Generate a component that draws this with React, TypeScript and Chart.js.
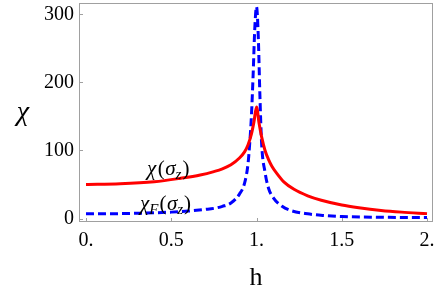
import React, { useEffect, useRef } from "react";
import { Chart, registerables } from "chart.js";

Chart.register(...registerables);

const redH = [0, 0.2, 0.4, 0.55, 0.67, 0.75, 0.8, 0.85, 0.9, 0.93, 0.95, 0.97, 0.985, 1.0, 1.015, 1.03, 1.05, 1.07, 1.09, 1.12, 1.16, 1.22, 1.3, 1.38, 1.5, 1.6, 1.73, 1.85, 2.0];
const redChi = [50, 51, 54, 59, 64, 69, 73, 79, 89, 98, 108, 124, 142, 164, 140, 120, 100, 87, 77, 66, 54, 43, 33.5, 27, 20, 16, 12, 9.5, 7.3];

const blueH = [0, 0.25, 0.5, 0.6, 0.7, 0.75, 0.8, 0.85, 0.9, 0.93, 0.95, 0.96, 0.97, 0.98, 0.99, 1.0, 1.01, 1.02, 1.03, 1.05, 1.07, 1.1, 1.15, 1.2, 1.3, 1.4, 1.5, 1.7, 2.0];
const blueChi = [7, 7.5, 9.5, 11, 13.5, 15, 18, 23, 36, 52, 80, 110, 150, 210, 280, 311, 270, 180, 110, 68, 45, 30, 18, 12, 7, 4.5, 3, 2, 1.5];

const xTicks = [0, 0.5, 1, 1.5, 2];
const xTickLabels = ["0.", "0.5", "1.", "1.5", "2."];
const yTicks = [0, 100, 200, 300];
const yTickLabels = ["0", "100", "200", "300"];

const seriesNames = ["χ(σz)", "χF(σz)"];

const SERIF = "'Liberation Serif', 'Times New Roman', 'DejaVu Serif', serif";

export default function App() {
  const ref = useRef<HTMLCanvasElement>(null);
  useEffect(() => {
    if (!ref.current) return;
    const framePlugin = {
      id: "frame",
      afterDraw(chart: any) {
        const ctx = chart.ctx;
        const a = chart.chartArea;
        const xs = chart.scales.x;
        const ys = chart.scales.y;
        ctx.save();
        ctx.strokeStyle = "#a0a0a0";
        ctx.lineWidth = 1;
        ctx.strokeRect(a.left + 0.5, a.top + 0.5, a.right - a.left - 1, a.bottom - a.top - 1);
        ctx.beginPath();
        xTicks.forEach((t) => {
          const px = Math.round(xs.getPixelForValue(t)) + 0.5;
          ctx.moveTo(px, a.bottom);
          ctx.lineTo(px, a.bottom - 4);
        });
        yTicks.forEach((t) => {
          const py = Math.round(ys.getPixelForValue(t)) + 0.5;
          ctx.moveTo(a.left, py);
          ctx.lineTo(a.left + 4, py);
        });
        ctx.stroke();

        ctx.fillStyle = "#000";
        ctx.textBaseline = "alphabetic";
        ctx.font = `italic 28px ${SERIF}`;
        ctx.textAlign = "center";
        ctx.fillText("χ", 23, 120);
        ctx.font = `26px ${SERIF}`;
        ctx.fillText("h", 256, 285);

        const drawLabel = (x: number, y: number, sub: string | null) => {
          ctx.textAlign = "left";
          let cx = x;
          const part = (txt: string, font: string, dy: number, gap: number) => {
            ctx.font = font;
            ctx.fillText(txt, cx, y + dy);
            cx += ctx.measureText(txt).width + gap;
          };
          part("χ", `italic 21px ${SERIF}`, 0, sub ? 0 : 1.5);
          if (sub) part(sub, `italic 15px ${SERIF}`, 4, 1);
          part("(", `21px ${SERIF}`, 0, 0.5);
          part("σ", `italic 21px ${SERIF}`, 0, 0);
          part("z", `italic 15px ${SERIF}`, 4, 1);
          part(")", `21px ${SERIF}`, 0, 0);
        };
        drawLabel(147, 175, null);
        drawLabel(140, 210, "F");
        ctx.restore();
      },
    };

    const chart = new Chart(ref.current, {
      type: "line",
      data: {
        datasets: [
          {
            label: seriesNames[0],
            data: redH.map((h, i) => ({ x: h, y: redChi[i] })),
            borderColor: "#ff0000",
            borderWidth: 3,
            pointRadius: 0,
            cubicInterpolationMode: "monotone",
            fill: false,
          },
          {
            label: seriesNames[1],
            data: blueH.map((h, i) => ({ x: h, y: blueChi[i] })),
            borderColor: "#0000ff",
            borderWidth: 3,
            borderDash: [8, 4],
            pointRadius: 0,
            cubicInterpolationMode: "monotone",
            fill: false,
          },
        ],
      },
      options: {
        animation: false,
        responsive: false,
        maintainAspectRatio: false,
        layout: { padding: { top: 3, right: 3, left: 0, bottom: 0 } },
        plugins: { legend: { display: false }, tooltip: { enabled: false } },
        scales: {
          x: {
            type: "linear",
            min: -0.041,
            max: 2.035,
            grid: { display: false, drawTicks: false },
            border: { display: false },
            afterBuildTicks: (s: any) => {
              s.ticks = xTicks.map((v) => ({ value: v }));
            },
            afterFit: (s: any) => {
              s.height = 72;
              s.paddingLeft = 0;
              s.paddingRight = 0;
            },
            ticks: {
              autoSkip: false,
              maxRotation: 0,
              padding: 7,
              color: "#000",
              font: { family: SERIF, size: 20 },
              callback: (v: any) => {
                const i = xTicks.indexOf(Number(v));
                return i >= 0 ? xTickLabels[i] : "";
              },
            },
          },
          y: {
            type: "linear",
            min: -5,
            max: 316.6,
            grid: { display: false, drawTicks: false },
            border: { display: false },
            afterBuildTicks: (s: any) => {
              s.ticks = yTicks.map((v) => ({ value: v }));
            },
            afterFit: (s: any) => {
              s.width = 79;
              s.paddingTop = 0;
              s.paddingBottom = 0;
            },
            ticks: {
              autoSkip: false,
              padding: 5,
              color: "#000",
              font: { family: SERIF, size: 20 },
              callback: (v: any) => {
                const i = yTicks.indexOf(Number(v));
                return i >= 0 ? yTickLabels[i] : "";
              },
            },
          },
        },
      },
      plugins: [framePlugin],
    } as any);
    return () => chart.destroy();
  }, []);

  return (
    <div style={{ position: "fixed", left: 0, top: 0, width: 436, height: 294, background: "#fff" }}>
      <canvas ref={ref} width={436} height={294} style={{ width: 436, height: 294 }} />
    </div>
  );
}
